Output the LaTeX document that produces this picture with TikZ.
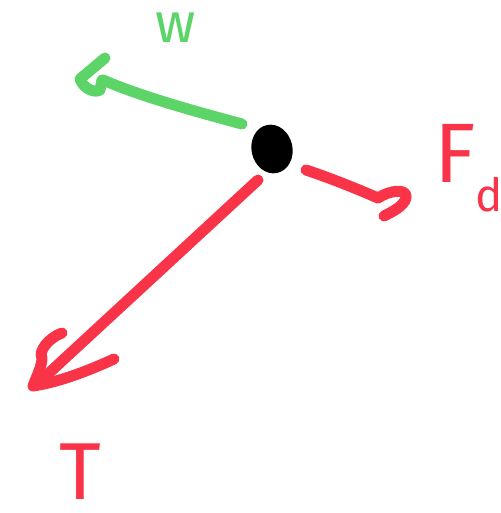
\documentclass[tikz,border=0pt]{standalone}
\usepackage{fontspec}
\setsansfont{Fira Sans}
\usetikzlibrary{shapes.geometric}
\definecolor{penred}{RGB}{250,52,72}
\definecolor{pengreen}{RGB}{92,212,104}
\tikzset{
  pen/.style={line width=0.22cm, line cap=round, line join=round},
  lbl/.style={inner sep=0pt},
}
\begin{document}
\begin{tikzpicture}[x=0.02cm,y=-0.02cm]
\useasboundingbox (0,0) rectangle (500,513);
% body
\node[draw=none, fill=black, ellipse, minimum width=0.82cm, minimum height=0.98cm, inner sep=0pt, rotate=12] (dot) at (272,149) {};
% weight (green)
\draw[pen, pengreen] (242,124) .. controls (190,110) and (140,96) .. (103,80);
\draw[pen, pengreen] (105,58) -- (80,79) .. controls (84,90) and (96,93) .. (100,90) -- (102,80);
\node[lbl, text=pengreen, font=\sffamily\fontsize{32}{32}\selectfont] (w) at (176,28) {w};
% drag (red)
\draw[pen, penred] (306,170) .. controls (330,178) and (355,188) .. (378,198);
\draw[pen, penred] (378,198) .. controls (390,190) and (408,188) .. (406,198) .. controls (404,206) and (392,212) .. (384,216);
\node[lbl, text=penred, anchor=west, font=\sffamily\fontsize{48}{48}\selectfont] (fd) at (434,168) {F\raisebox{-0.35em}{\fontsize{26}{26}\selectfont d}};
% tension (red)
\draw[pen, penred] (258,180) -- (36,385);
\draw[pen, penred] (62,333) .. controls (48,338) and (38,352) .. (42,358) .. controls (42,366) and (36,378) .. (33,386) .. controls (60,382) and (90,370) .. (114,359);
\node[lbl, text=penred, font=\sffamily\fontsize{46}{46}\selectfont] (T) at (80,472) {T};
\end{tikzpicture}
\end{document}
